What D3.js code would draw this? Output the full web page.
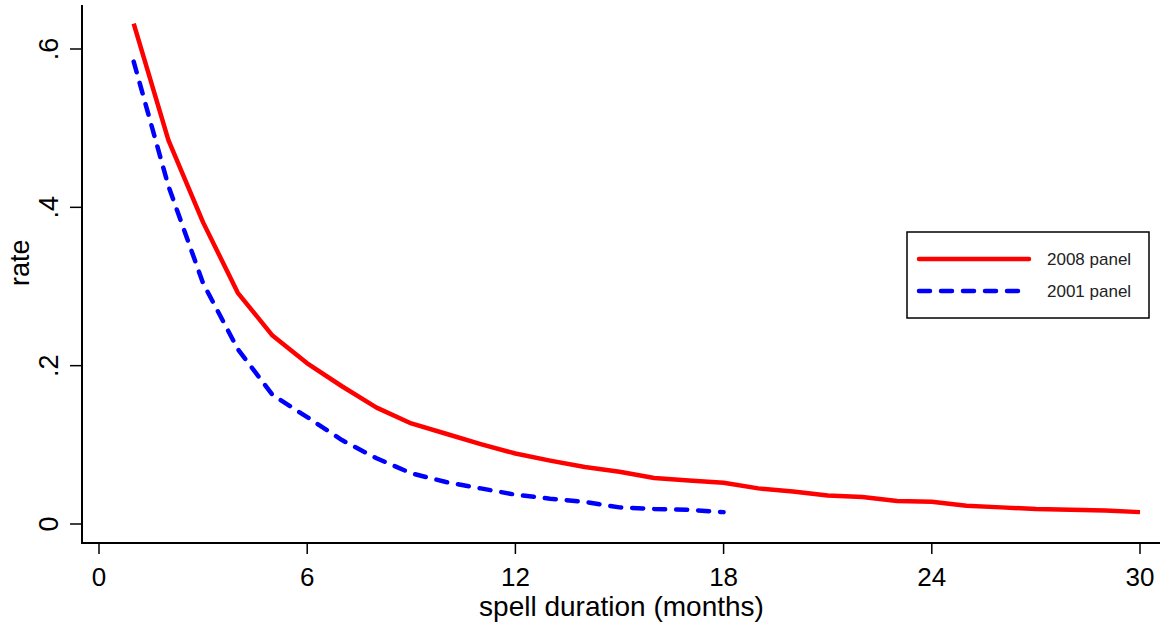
<!DOCTYPE html>
<html>
<head>
<meta charset="utf-8">
<script src="https://cdn.jsdelivr.net/npm/d3@7"></script>
<style>
  body { margin: 0; background: #fff; }
  svg { display: block; font-family: "Liberation Sans", Arial, sans-serif; }
</style>
</head>
<body>
<svg id="viz" width="1166" height="627"></svg>
<script>
// === DATA ===
const months2008 = d3.range(1, 31);
const rate2008 = [0.632, 0.485, 0.381, 0.292, 0.238, 0.203, 0.174, 0.147, 0.127, 0.114,
                  0.101, 0.089, 0.080, 0.072, 0.066, 0.058, 0.055, 0.052, 0.045, 0.041,
                  0.036, 0.034, 0.029, 0.028, 0.023, 0.021, 0.019, 0.018, 0.017, 0.015];
const months2001 = d3.range(1, 19);
const rate2001 = [0.584, 0.427, 0.304, 0.221, 0.163, 0.135, 0.106, 0.083, 0.064, 0.053,
                  0.045, 0.037, 0.032, 0.028, 0.021, 0.019, 0.018, 0.015];
const xTicks = [0, 6, 12, 18, 24, 30];
const yTicks = [0, 0.2, 0.4, 0.6];
const yTickLabels = ["0", ".2", ".4", ".6"];
const seriesNames = ["2008 panel", "2001 panel"];

// === SETUP ===
const svg = d3.select("#viz");
const axisLeftX = 82, axisBottomY = 543;

const x = d3.scaleLinear().domain([0, 30]).range([99, 1140]);
const y = d3.scaleLinear().domain([0, 0.6]).range([524, 49]);

// axes lines
svg.append("line")
  .attr("x1", axisLeftX).attr("x2", axisLeftX)
  .attr("y1", 5).attr("y2", axisBottomY + 1)
  .attr("stroke", "#000").attr("stroke-width", 2);
svg.append("line")
  .attr("x1", axisLeftX - 1).attr("x2", 1160)
  .attr("y1", axisBottomY).attr("y2", axisBottomY)
  .attr("stroke", "#000").attr("stroke-width", 2);

// x ticks
const xt = svg.append("g");
xTicks.forEach(t => {
  xt.append("line")
    .attr("x1", x(t)).attr("x2", x(t))
    .attr("y1", axisBottomY).attr("y2", axisBottomY + 11)
    .attr("stroke", "#000").attr("stroke-width", 1.5);
  xt.append("text")
    .attr("x", x(t)).attr("y", 586)
    .attr("text-anchor", "middle")
    .style("font-size", "26px")
    .text(t);
});

// y ticks
const yt = svg.append("g");
yTicks.forEach((t, i) => {
  yt.append("line")
    .attr("x1", axisLeftX - 12).attr("x2", axisLeftX)
    .attr("y1", y(t)).attr("y2", y(t))
    .attr("stroke", "#000").attr("stroke-width", 1.5);
  yt.append("text")
    .attr("transform", `translate(58,${y(t)}) rotate(-90)`)
    .attr("text-anchor", "middle")
    .style("font-size", "27px")
    .text(yTickLabels[i]);
});

// axis titles
svg.append("text")
  .attr("x", x(15) + 2).attr("y", 616)
  .attr("text-anchor", "middle")
  .style("font-size", "28px")
  .text("spell duration (months)");
svg.append("text")
  .attr("transform", `translate(29,${y(0.33)}) rotate(-90)`)
  .attr("text-anchor", "middle")
  .style("font-size", "27px")
  .text("rate");

// === LINES ===
const line = d3.line().x(d => x(d[0])).y(d => y(d[1]));

svg.append("path")
  .datum(months2001.map((m, i) => [m, rate2001[i]]))
  .attr("fill", "none")
  .attr("stroke", "#0000ff")
  .attr("stroke-width", 4.5)
  .attr("stroke-linecap", "round")
  .attr("stroke-dasharray", "11 11")
  .attr("d", line);

svg.append("path")
  .datum(months2008.map((m, i) => [m, rate2008[i]]))
  .attr("fill", "none")
  .attr("stroke", "#ff0000")
  .attr("stroke-width", 4.5)
  .attr("stroke-linejoin", "round")
  .attr("d", line);

// === LEGEND ===
const lg = svg.append("g");
lg.append("rect")
  .attr("x", 907).attr("y", 232).attr("width", 242).attr("height", 86)
  .attr("fill", "#fff").attr("stroke", "#000").attr("stroke-width", 1.5);
lg.append("line")
  .attr("x1", 919).attr("x2", 1029).attr("y1", 259).attr("y2", 259)
  .attr("stroke", "#ff0000").attr("stroke-width", 4.5).attr("stroke-linecap", "round");
lg.append("line")
  .attr("x1", 919).attr("x2", 1029).attr("y1", 291).attr("y2", 291)
  .attr("stroke", "#0000ff").attr("stroke-width", 4.5).attr("stroke-linecap", "round")
  .attr("stroke-dasharray", "11 11");
seriesNames.forEach((s, i) => {
  lg.append("text")
    .attr("x", 1047).attr("y", 265 + i * 32)
    .style("font-size", "17px")
    .attr("fill", "#222")
    .text(s);
});
</script>
</body>
</html>
